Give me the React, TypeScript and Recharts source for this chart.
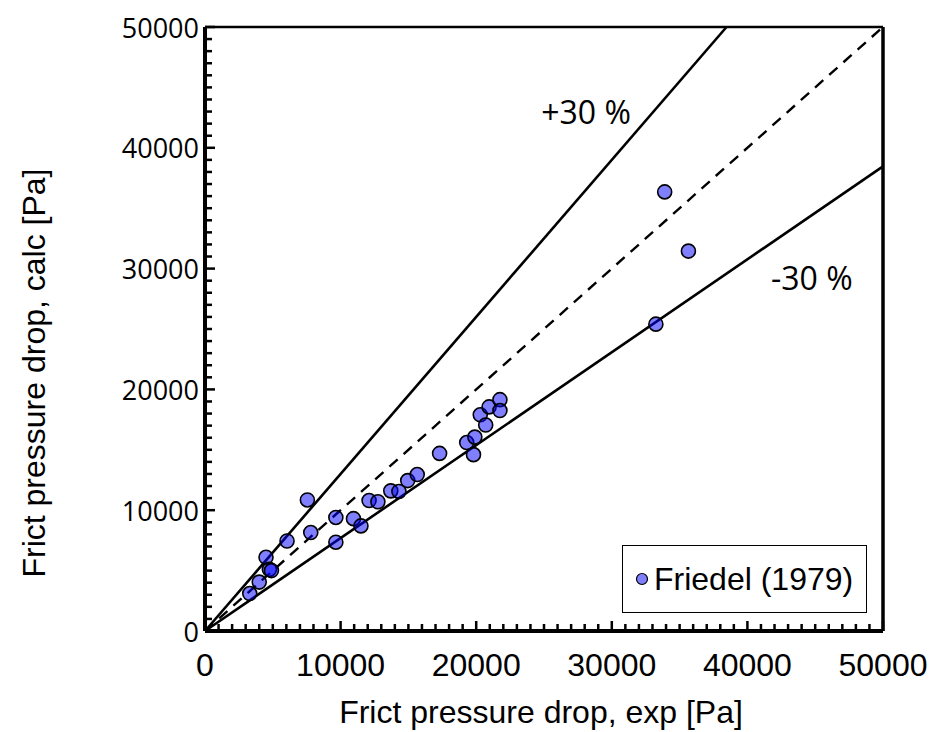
import { ScatterChart, Scatter, XAxis, YAxis, ReferenceLine, ReferenceDot, Legend, Label } from 'recharts'

// measured vs calculated frictional pressure drop [Pa]
const expPa = [
  3300, 4000, 4500, 4750, 4900, 6050, 7550, 7800, 9650, 9650, 10950, 11500,
  12100, 12750, 13700, 14300, 14950, 15650, 17300, 19300, 19900, 19800,
  20300, 20700, 20950, 21750, 21750, 33900, 35650, 33250,
]
const calcPa = [
  3100, 4050, 6100, 5100, 5000, 7450, 10850, 8150, 9400, 7350, 9300, 8700,
  10800, 10700, 11600, 11550, 12450, 12950, 14700, 15600, 16050, 14600,
  17900, 17050, 18550, 19150, 18250, 36350, 31450, 25400,
]
const points = expPa.map((x, i) => ({ x, y: calcPa[i] }))

const xTicks = [0, 10000, 20000, 30000, 40000, 50000]
const minorStep = 1000
const allTicks = Array.from({ length: 51 }, (_, i) => i * minorStep)
const band = 1.3

const arial = '"Liberation Sans", Arial, sans-serif'
const sans = '"Open Sans", sans-serif'

function XTick(props: any) {
  const { x, y, payload } = props
  const major = xTicks.includes(payload.value)
  return (
    <g>
      <line x1={x} x2={x} y1={y} y2={y - (major ? 10 : 7)} stroke="#000" strokeWidth={2.5} />
      {major && (
        <text x={x} y={y + 45} textAnchor="middle" fontFamily={arial} fontSize={32} fill="#000">
          {payload.value}
        </text>
      )}
    </g>
  )
}

function YTick(props: any) {
  const { x, y, payload } = props
  const major = xTicks.includes(payload.value)
  return (
    <g>
      <line x1={x} x2={x + (major ? 10 : 7)} y1={y} y2={y} stroke="#000" strokeWidth={2.5} />
      {major && (
        <text x={x - 6} y={y} textAnchor="end" dominantBaseline="central" fontFamily={sans} fontSize={27} fill="#000">
          {payload.value}
        </text>
      )}
    </g>
  )
}

function Dot(props: any) {
  return <circle cx={props.cx} cy={props.cy} r={7} fill="#0000ff" fillOpacity={0.5} stroke="#000" strokeWidth={1.6} />
}

function LegendBox(props: any) {
  const name = props.payload?.[0]?.value ?? 'Friedel (1979)'
  return (
    <div
      style={{
        boxSizing: 'border-box',
        width: 245,
        height: 68,
        border: '1.5px solid #000',
        background: '#fff',
        display: 'flex',
        alignItems: 'center',
        paddingLeft: 12,
        fontFamily: arial,
        fontSize: 32,
        color: '#000',
      }}
    >
      <svg width={14} height={14} style={{ marginRight: 5 }}>
        <circle cx={7} cy={7} r={5.5} fill="#8080ff" stroke="#000" strokeWidth={1.2} />
      </svg>
      {name}
    </div>
  )
}

export default function App() {
  return (
    <div style={{ position: 'absolute', left: 0, top: 0 }}>
      <ScatterChart width={932} height={732} margin={{ top: 27, right: 49, left: 0, bottom: 0 }}>
        <XAxis
          type="number"
          dataKey="x"
          domain={[0, 50000]}
          ticks={allTicks}
          interval={0}
          tickSize={0}
          tickMargin={0}
          tickLine={false}
          tick={<XTick />}
          height={101}
          axisLine={{ stroke: '#000', strokeWidth: 4 }}
        >
          <Label
            content={() => (
              <text x={541} y={723} textAnchor="middle" fontFamily={arial} fontSize={32} fill="#000">
                Frict pressure drop, exp [Pa]
              </text>
            )}
          />
        </XAxis>
        <YAxis
          type="number"
          dataKey="y"
          domain={[0, 50000]}
          ticks={allTicks}
          interval={0}
          tickSize={0}
          tickMargin={0}
          tickLine={false}
          tick={<YTick />}
          width={205}
          axisLine={{ stroke: '#000', strokeWidth: 4 }}
        >
          <Label
            content={() => (
              <text
                x={34}
                y={373}
                transform="rotate(-90 34 373)"
                textAnchor="middle"
                dominantBaseline="central"
                fontFamily={arial}
                fontSize={32}
                fill="#000"
              >
                Frict pressure drop, calc [Pa]
              </text>
            )}
          />
        </YAxis>
        <ReferenceLine y={50000} stroke="#000" strokeWidth={2.5} />
        <ReferenceLine x={50000} stroke="#000" strokeWidth={3.5} />
        <ReferenceLine
          segment={[{ x: 0, y: 0 }, { x: 50000, y: 50000 }]}
          stroke="#000"
          strokeWidth={2.4}
          strokeDasharray="11 8"
        />
        <ReferenceLine segment={[{ x: 0, y: 0 }, { x: 50000 / band, y: 50000 }]} stroke="#000" strokeWidth={2.6} />
        <ReferenceLine segment={[{ x: 0, y: 0 }, { x: 50000, y: 50000 / band }]} stroke="#000" strokeWidth={2.6} />
        <ReferenceDot
          x={28100}
          y={42900}
          r={0}
          fill="none"
          stroke="none"
          label={{ value: '+30 %', position: 'center', fontFamily: sans, fontSize: 32, fill: '#000' }}
        />
        <ReferenceDot
          x={44750}
          y={29200}
          r={0}
          fill="none"
          stroke="none"
          label={{ value: '-30 %', position: 'center', fontFamily: sans, fontSize: 32, fill: '#000' }}
        />
        <Scatter name="Friedel (1979)" data={points} shape={<Dot />} isAnimationActive={false} />
        <Legend
          layout="vertical"
          align="center"
          verticalAlign="middle"
          content={<LegendBox />}
          wrapperStyle={{ left: 622, top: 545, width: 245, height: 68 }}
        />
      </ScatterChart>
    </div>
  )
}
